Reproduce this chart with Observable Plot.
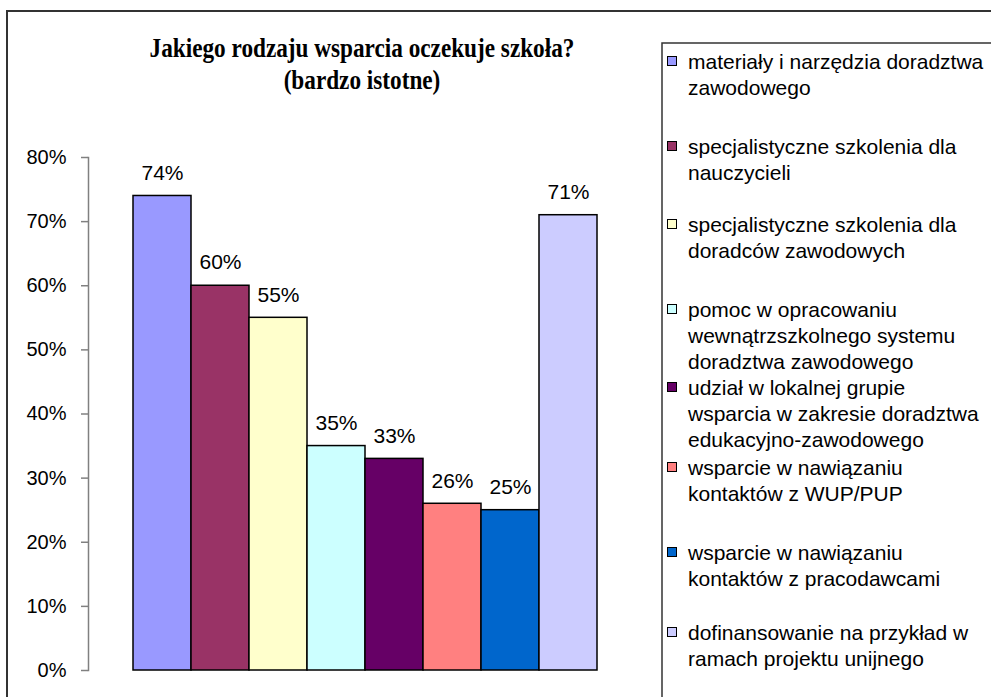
<!DOCTYPE html>
<html>
<head>
<meta charset="utf-8">
<script src="https://cdn.jsdelivr.net/npm/d3@7"></script>
<script src="https://cdn.jsdelivr.net/npm/@observablehq/plot@0.6"></script>
<style>
  html, body { margin: 0; padding: 0; background: #fff; overflow: hidden; }
  #wrap { position: relative; width: 991px; height: 697px; overflow: hidden; font-family: "Liberation Sans", Arial, sans-serif; }
  #chart { position: absolute; left: 0; top: 0; }
  #deco { position: absolute; left: 0; top: 0; }
  .title { position: absolute; left: 62px; width: 600px; text-align: center; font-family: "Liberation Serif", "Times New Roman", serif; font-weight: bold; font-size: 27px; line-height: 32px; top: 32px; color: #000; transform: scaleX(0.86); transform-origin: 300px 0; white-space: nowrap; }
  .item { position: absolute; left: 667px; font-size: 21px; line-height: 26px; color: #000; white-space: pre; }
  .sw { position: absolute; left: 0; width: 8px; height: 8px; border: 1.5px solid #000; }
  .txt { position: absolute; left: 21px; top: 0; }
</style>
</head>
<body>
<div id="wrap">
  <div id="chart"></div>
  <div class="title" id="title"></div>
</div>
<script>
const titleLines = ["Jakiego rodzaju wsparcia oczekuje szkoła?", "(bardzo istotne)"];
const categories = [
  "materiały i narzędzia doradztwa\nzawodowego",
  "specjalistyczne szkolenia dla\nnauczycieli",
  "specjalistyczne szkolenia dla\ndoradców zawodowych",
  "pomoc w opracowaniu\nwewnątrzszkolnego systemu\ndoradztwa zawodowego",
  "udział w lokalnej grupie\nwsparcia w zakresie doradztwa\nedukacyjno-zawodowego",
  "wsparcie w nawiązaniu\nkontaktów z WUP/PUP",
  "wsparcie w nawiązaniu\nkontaktów z pracodawcami",
  "dofinansowanie na przykład w\nramach projektu unijnego"
];
const values = [0.74, 0.60, 0.55, 0.35, 0.33, 0.26, 0.25, 0.71];
const colors = ["#9999FF", "#993366", "#FFFFCC", "#CCFFFF", "#660066", "#FF8080", "#0066CC", "#CCCCFF"];
const yTicks = [0, 0.1, 0.2, 0.3, 0.4, 0.5, 0.6, 0.7, 0.8];
const legendTops = [62, 147, 225, 310, 388, 468, 553, 633];

const data = categories.map((c, i) => ({cat: c, value: values[i]}));

const plot = Plot.plot({
  width: 991,
  height: 697,
  marginLeft: 88,
  marginRight: 350,
  marginTop: 157,
  marginBottom: 27,
  style: {background: "transparent", fontFamily: "Liberation Sans, Arial, sans-serif", overflow: "visible"},
  x: {domain: categories, range: [130.5, 598.5], padding: 0, axis: null},
  y: {domain: [0, 0.8], axis: null},
  color: {domain: categories, range: colors},
  marks: [
    Plot.frame({anchor: "left", stroke: "#808080", strokeWidth: 1.5}),
    Plot.axisY({ticks: yTicks, tickFormat: d => Math.round(d * 100) + "%", tickSize: 7, tickPadding: 15,
      label: null, stroke: "#808080", strokeWidth: 1.5, fill: "#000", fontSize: 20}),
    Plot.barY(data, {x: "cat", y: "value", fill: "cat", stroke: "#000", strokeWidth: 1.5}),
    Plot.text(data, {x: "cat", y: "value", text: d => Math.round(d.value * 100) + "%", dy: -23, fontSize: 21, fill: "#000"})
  ]
});
document.getElementById("chart").appendChild(plot);

// decorative frame lines (chart border and legend box border)
const deco = d3.select("#wrap").append("svg").attr("id", "deco").attr("width", 991).attr("height", 697);
deco.append("path").attr("d", "M7,697V11H991").attr("fill", "none").attr("stroke", "#333").attr("stroke-width", 2);
deco.append("path").attr("d", "M662,697V43H991").attr("fill", "none").attr("stroke", "#333").attr("stroke-width", 1.5);

document.getElementById("title").innerHTML = titleLines.join("<br>");

const wrap = document.getElementById("wrap");
categories.forEach((c, i) => {
  const item = document.createElement("div");
  item.className = "item";
  item.style.top = (legendTops[i] - 13) + "px";
  const sw = document.createElement("div");
  sw.className = "sw";
  sw.style.background = colors[i];
  sw.style.top = "7px";
  const txt = document.createElement("div");
  txt.className = "txt";
  txt.textContent = c;
  item.appendChild(sw);
  item.appendChild(txt);
  wrap.appendChild(item);
});
</script>
</body>
</html>
